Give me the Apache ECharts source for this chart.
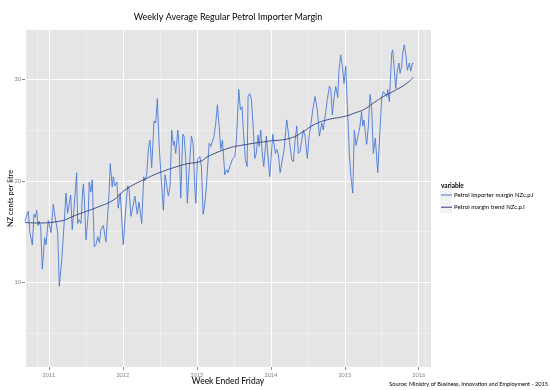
<!DOCTYPE html>
<html><head><meta charset="utf-8">
<script src="https://cdn.jsdelivr.net/npm/echarts@6/dist/echarts.min.js"></script>
<style>html,body{margin:0;padding:0;background:#fff}#c{width:550px;height:390px}</style>
</head><body><div id="c"></div>
<script>
// Weekly importer margin (decimal year, NZ cents per litre)
const importerYear = [
2010.677,2010.721,2010.744,2010.776,2010.799,2010.816,2010.835,2010.853,2010.870,2010.889,
2010.911,2010.943,2010.961,2010.992,2011.005,2011.028,2011.060,2011.082,2011.119,2011.141,
2011.177,2011.208,2011.231,2011.254,2011.272,2011.295,2011.316,2011.353,2011.376,2011.389,
2011.411,2011.434,2011.457,2011.468,2011.481,2011.502,2011.533,2011.546,2011.567,2011.587,
2011.614,2011.637,2011.660,2011.684,2011.704,2011.736,2011.772,2011.813,2011.830,2011.857,
2011.871,2011.894,2011.921,2011.938,2011.965,2012.006,2012.038,2012.065,2012.083,2012.110,
2012.133,2012.164,2012.195,2012.218,2012.232,2012.255,2012.282,2012.299,2012.322,2012.349,
2012.367,2012.390,2012.421,2012.444,2012.466,2012.489,2012.516,2012.547,2012.570,2012.593,
2012.614,2012.637,2012.660,2012.682,2012.696,2012.714,2012.742,2012.759,2012.782,2012.809,
2012.827,2012.850,2012.871,2012.894,2012.925,2012.948,2012.971,2012.985,2013.007,2013.039,
2013.061,2013.084,2013.107,2013.128,2013.165,2013.188,2013.205,2013.232,2013.255,2013.277,
2013.300,2013.323,2013.345,2013.377,2013.404,2013.422,2013.449,2013.480,2013.512,2013.534,
2013.566,2013.588,2013.611,2013.624,2013.656,2013.679,2013.692,2013.715,2013.737,2013.760,
2013.783,2013.804,2013.827,2013.841,2013.864,2013.881,2013.904,2013.939,2013.962,2013.985,
2014.026,2014.044,2014.061,2014.080,2014.102,2014.125,2014.148,2014.179,2014.215,2014.237,
2014.260,2014.283,2014.305,2014.328,2014.351,2014.372,2014.395,2014.418,2014.440,2014.463,
2014.494,2014.517,2014.530,2014.567,2014.598,2014.629,2014.656,2014.689,2014.710,2014.733,
2014.764,2014.791,2014.810,2014.832,2014.855,2014.878,2014.905,2014.922,2014.945,2014.967,
2014.990,2015.013,2015.035,2015.062,2015.085,2015.108,2015.129,2015.152,2015.179,2015.206,
2015.227,2015.243,2015.260,2015.283,2015.297,2015.319,2015.342,2015.365,2015.386,2015.413,
2015.446,2015.500,2015.521,2015.544,2015.567,2015.581,2015.603,2015.635,2015.649,2015.670,
2015.689,2015.711,2015.734,2015.747,2015.770,2015.784,2015.805,2015.828,2015.846,2015.873,
2015.892,2015.914,2015.927
];
const importerMargin = [
16.1,17.0,14.9,13.7,16.7,16.4,17.1,15.6,16.0,15.5,
11.3,14.4,13.7,16.1,15.7,14.9,17.7,16.5,14.9,9.6,
12.5,16.0,18.8,16.8,16.8,18.6,15.2,18.5,20.8,15.8,
16.2,15.8,19.1,19.7,18.1,14.2,16.8,19.9,18.9,20.1,
13.5,13.7,14.5,13.9,15.2,15.6,14.0,18.6,21.7,19.4,
20.4,19.5,19.9,17.3,18.8,13.7,17.1,19.5,19.3,16.5,
16.4,18.5,16.7,17.9,17.9,15.8,20.4,20.0,20.6,23.4,
24.0,21.3,25.9,25.7,28.1,23.7,20.4,17.1,20.6,20.5,
18.5,19.4,25.0,23.5,23.9,22.7,25.0,23.5,18.3,24.6,
24.4,22.1,17.8,21.0,24.4,23.7,19.4,17.8,22.1,22.4,
21.4,16.7,17.8,19.4,23.7,23.4,23.5,24.4,25.7,27.5,
25.4,23.1,24.0,20.6,21.1,20.8,21.5,22.1,22.4,24.0,
29.0,27.0,27.3,25.4,22.1,21.4,28.3,28.6,28.0,25.4,
22.2,22.7,24.5,23.4,25.0,22.9,21.4,24.4,24.4,20.4,
24.6,24.7,22.7,23.1,22.6,20.8,20.9,23.1,26.0,25.9,
23.4,22.1,21.9,24.0,25.4,22.7,22.9,24.0,25.0,24.4,
22.2,24.4,24.9,27.0,28.3,27.0,24.4,25.7,25.0,24.9,
28.0,29.3,29.1,26.5,28.2,29.3,28.2,30.9,32.4,31.3,
29.6,31.3,27.3,22.7,20.3,18.8,25.0,23.5,23.5,25.4,
26.8,25.4,26.0,24.4,23.6,25.4,28.5,27.0,22.7,24.2,
20.8,28.2,28.8,28.9,28.3,29.0,27.8,32.6,32.9,30.9,
29.1,30.9,31.6,30.6,31.3,32.6,33.4,32.3,30.9,31.6,
30.8,31.6,31.5
];
// Smoothed trend
const trendYear = [2010.677,2010.835,2011.127,2011.376,2011.691,2011.871,2012.006,2012.141,2012.322,2012.458,
  2012.728,2012.881,2013.043,2013.151,2013.422,2013.601,2013.962,2014.260,2014.440,2014.575,
  2014.756,2015.026,2015.139,2015.253,2015.386,2015.521,2015.703,2015.838,2015.927];
const trendMargin = [15.9,15.85,16.0,16.65,17.5,18.1,18.95,19.6,20.25,20.7,
  21.4,21.7,21.9,22.4,23.2,23.5,23.9,24.2,24.85,25.5,
  26.0,26.4,26.7,27.0,27.65,28.3,29.0,29.6,30.2];

const seriesNames = ['Petrol importer margin NZc.p.l', 'Petrol margin trend NZc.p.l'];
const yTickValues = [10, 20, 30];
const xRange = [2010.677, 2016.166];
const yRange = [1.66, 34.86];

function yearToTime(y) {
  const yr = Math.floor(y);
  const s = new Date(yr, 0, 1).getTime(), e = new Date(yr + 1, 0, 1).getTime();
  return s + (y - yr) * (e - s);
}
const pair = (xs, ys) => xs.map((x, i) => [yearToTime(x), ys[i]]);

const chart = echarts.init(document.getElementById('c'));
const font = 'Lato';
chart.setOption({
  animation: false,
  backgroundColor: '#ffffff',
  title: [
    { text: 'Weekly Average Regular Petrol Importer Margin', left: 228, top: 13, padding: 0, textAlign: 'center',
      textStyle: { fontFamily: font, fontSize: 9, fontWeight: 'normal', color: '#000' } },
    { text: 'variable', left: 441, top: 182, padding: 0,
      textStyle: { fontFamily: font, fontSize: 6.5, fontWeight: 'bold', color: '#000' } },
    { text: 'Source: Ministry of Business, Innovation and Employment - 2015', right: 2, top: 381, padding: 0,
      textStyle: { fontFamily: font, fontSize: 5.6, fontWeight: 'normal', color: '#000' } }
  ],
  graphic: [
    { type: 'rect', left: 440, top: 190.5, shape: { width: 12, height: 11 }, style: { fill: '#f2f2f2' }, z: -1 },
    { type: 'rect', left: 440, top: 202, shape: { width: 12, height: 11 }, style: { fill: '#f2f2f2' }, z: -1 }
  ],
  legend: {
    orient: 'vertical', left: 441, top: 192, padding: 0, itemGap: 6.2, itemWidth: 11, itemHeight: 8,
    icon: 'path://M0,3.5 L11,3.5 L11,4.5 L0,4.5 Z',
    textStyle: { fontFamily: font, fontSize: 6, color: '#000', padding: [0,0,0,-3] },
    data: seriesNames
  },
  grid: { left: 25, right: 119, top: 30, bottom: 23, show: true, backgroundColor: '#e5e5e5', borderWidth: 0,
    containLabel: false, outerBoundsMode: 'none' },
  xAxis: {
    type: 'time', min: yearToTime(xRange[0]), max: yearToTime(xRange[1]),
    minInterval: 360 * 24 * 3600 * 1000,
    name: 'Week Ended Friday', nameLocation: 'middle', nameGap: 10, nameMoveOverlap: false,
    nameTextStyle: { fontFamily: font, fontSize: 8.5, color: '#000' },
    axisLine: { show: false },
    axisTick: { show: true, length: 3, lineStyle: { color: '#888' } },
    axisLabel: { fontFamily: font, fontSize: 5.5, color: '#7f7f7f', margin: 5,
      formatter: v => String(new Date(v).getFullYear()) },
    splitLine: { show: true, lineStyle: { color: '#ffffff', width: 1 } },
    minorTick: { show: false, splitNumber: 2 },
    minorSplitLine: { show: true, lineStyle: { color: '#f2f2f2', width: 0.7 } }
  },
  yAxis: {
    type: 'value', min: yRange[0], max: yRange[1], splitNumber: 3,
    name: 'NZ cents per litre', nameLocation: 'middle', nameGap: 10, nameRotate: 90, nameMoveOverlap: false,
    nameTextStyle: { fontFamily: font, fontSize: 7.5, color: '#000' },
    axisLine: { show: false },
    axisTick: { show: true, length: 3, lineStyle: { color: '#888' }, customValues: yTickValues },
    axisLabel: { fontFamily: font, fontSize: 5.5, color: '#7f7f7f', margin: 4, customValues: yTickValues },
    splitLine: { show: true, lineStyle: { color: '#ffffff', width: 1 } },
    minorTick: { show: false, splitNumber: 2 },
    minorSplitLine: { show: true, lineStyle: { color: '#f2f2f2', width: 0.7 } }
  },
  series: [
    { name: seriesNames[0], type: 'line', data: pair(importerYear, importerMargin),
      showSymbol: false, lineStyle: { color: '#4a78d8', width: 0.9 }, itemStyle: { color: '#4a78d8' } },
    { name: seriesNames[1], type: 'line', data: pair(trendYear, trendMargin), smooth: true,
      showSymbol: false, lineStyle: { color: '#2a3f7f', width: 0.9 }, itemStyle: { color: '#2a3f7f' } }
  ]
});
</script></body></html>
